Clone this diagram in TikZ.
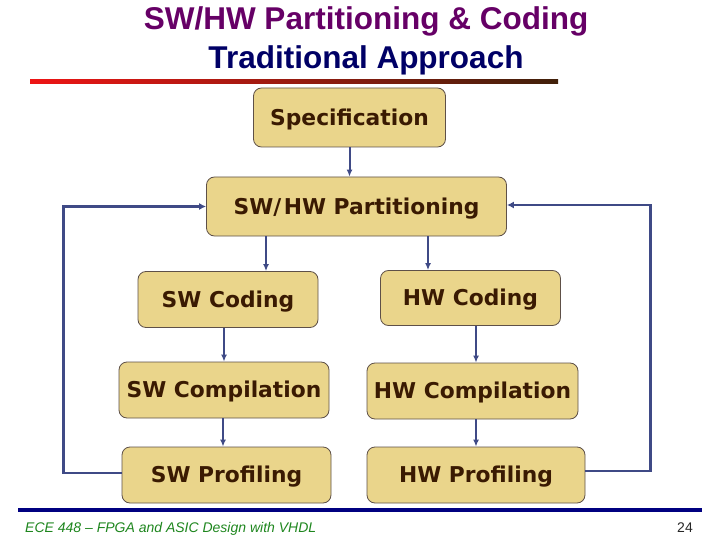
\documentclass[tikz,border=0pt]{standalone}
\usepackage{fontspec}
\setmainfont{Liberation Sans}
\newfontfamily\boxfont{DejaVu Sans}
\usetikzlibrary{arrows.meta}
\definecolor{boxfill}{HTML}{EAD58B}
\definecolor{boxline}{HTML}{5E5048}
\definecolor{boxtext}{HTML}{3A1A02}
\definecolor{arrcol}{HTML}{3F4A86}
\definecolor{titlepurple}{HTML}{660066}
\definecolor{titlenavy}{HTML}{000066}
\definecolor{footgreen}{HTML}{1E861E}
\definecolor{barred}{HTML}{EE1515}
\definecolor{barbrown}{HTML}{40200A}
\definecolor{navyline}{HTML}{000080}
\tikzset{
  stepbox/.style={draw=boxline, line width=0.8pt, fill=boxfill, rounded corners=8pt,
    text=boxtext, font=\boxfont\bfseries\fontsize{21.8}{25}\selectfont, inner sep=0pt,
    text height=15.5pt, text depth=0pt},
  titletext/.style={anchor=base, font=\bfseries\fontsize{31.5}{36}\selectfont, inner sep=0pt},
  arr/.style={draw=arrcol, line width=2pt, -{Latex[length=7pt,width=6pt]}},
  fb/.style={draw=arrcol, line width=2.6pt, -{Latex[length=7pt,width=7pt]}}
}
\begin{document}
\begin{tikzpicture}[x=1pt,y=-1pt]
\useasboundingbox (0,0) rectangle (720,540);
% title
\node[titletext, text=titlepurple] (t1) at (366,29.5) {SW/HW Partitioning \& Coding};
\node[titletext, text=titlenavy] (t2) at (366,68.5) {Traditional Approach};
\shade[left color=barred, right color=barbrown] (30,79.5) rectangle (558,84);
% boxes
\node[stepbox, minimum width=192pt, minimum height=59pt] (spec) at (349.5,117.5) {Specification};
\node[stepbox, minimum width=300pt, minimum height=59pt] (part) at (356.5,206.5) {SW/\kern2.5pt HW Partitioning};
\node[stepbox, minimum width=180pt, minimum height=56pt] (swc) at (228,299.5) {SW Coding};
\node[stepbox, minimum width=180pt, minimum height=55pt] (hwc) at (470.5,298) {HW Coding};
\node[stepbox, minimum width=210pt, minimum height=56pt] (swcomp) at (224,390) {SW Compilation};
\node[stepbox, minimum width=211pt, minimum height=56pt] (hwcomp) at (472.5,391) {HW Compilation};
\node[stepbox, minimum width=209pt, minimum height=56pt] (swp) at (226.5,475) {SW Profiling};
\node[stepbox, minimum width=218pt, minimum height=56pt] (hwp) at (476,475) {HW Profiling};
% arrows
\draw[arr] (spec.south) -- (spec.south |- part.north);
\draw[arr] ([xshift=-90.5pt]part.south) -- ([xshift=38pt]swc.north);
\draw[arr] ([xshift=71.5pt]part.south) -- ([xshift=-42.5pt]hwc.north);
\draw[arr] (swc.south -| swcomp.north) -- (swcomp.north);
\draw[arr] ([xshift=-1pt]swcomp.south) -- ([xshift=-3.5pt]swp.north);
\draw[arr] ([xshift=5.5pt]hwc.south) -- ([xshift=3.5pt]hwcomp.north);
\draw[arr] ([xshift=3.5pt]hwcomp.south) -- (hwp.north);
\draw[fb] ([yshift=2pt]swp.west) -- ++(-58,0) |- (part.west);
\draw[fb] ([yshift=4pt]hwp.east) -- ++(65,0) |- ([yshift=1.5pt]part.east);
% footer
\draw[navyline, line width=3.5pt] (18,510) -- (702,510);
\node[anchor=base west, text=footgreen, font=\itshape\fontsize{14}{16}\selectfont, inner sep=0pt] (foot) at (25,532) {ECE 448 – FPGA and ASIC Design with VHDL};
\node[anchor=base east, text=black!85, font=\fontsize{14}{16}\selectfont, inner sep=0pt] (pg) at (693,532) {24};
\end{tikzpicture}
\end{document}
